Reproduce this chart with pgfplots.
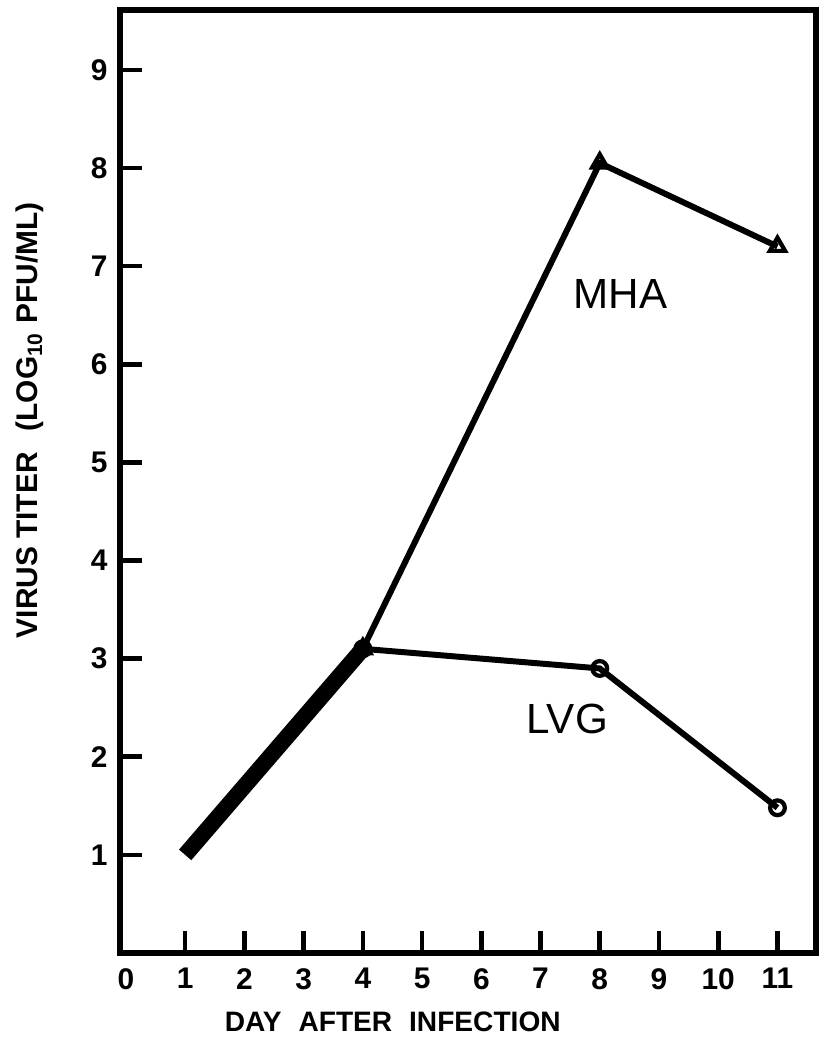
\documentclass[border=0pt]{standalone}
\usepackage{fontspec}
\setmainfont{Liberation Sans}
\usepackage{pgfplots}
\pgfplotsset{compat=1.18}
\begin{document}
\begin{tikzpicture}
\begin{axis}[name=ax, at={(0,0)}, anchor=south west,
  scale only axis, width=6.96cm, height=9.43cm,
  xmin=-0.1, xmax=11.65, ymin=0, ymax=9.61,
  axis line style={line width=1.8pt},
  xtick={1,...,11}, ytick={1,...,9},
  extra x ticks={0}, extra x tick style={major tick length=0pt},
  tick align=inside, xtick pos=bottom, ytick pos=left,
  major tick length=0.22cm,
  every tick/.style={line width=1.3pt, black},
  tick label style={font=\bfseries\fontsize{8.5}{10}\selectfont},
  /pgf/number format/assume math mode=true,
  xticklabel style={yshift=-0.03cm},
  xlabel={DAY\hspace{0.6em}AFTER\hspace{0.6em}INFECTION},
  xlabel style={font=\bfseries\fontsize{8}{10}\selectfont,
    at={(axis description cs:0.392,-0.073)}, anchor=center},
  ylabel={VIRUS TITER\hspace{0.7em}(LOG\textsubscript{10} PFU/ML)},
  ylabel style={font=\bfseries\fontsize{8.5}{10}\selectfont,
    at={(axis description cs:-0.13,0.565)}, anchor=center},
  clip=false]
% overlapping early segment (both strains), drawn heavy as in the original
\addplot[black, line width=4.6pt] coordinates {(1,1.0) (4,3.1)};
% MHA
\addplot[black, line width=1.7pt, mark=triangle, mark size=2.5pt,
  mark options={fill=white, line width=1.2pt}] coordinates {(4,3.1) (8,8.05) (11,7.2)};
% LVG
\addplot[black, line width=1.7pt, mark=o, mark size=2.1pt,
  mark options={fill=white, line width=1.2pt}] coordinates {(4,3.1) (8,2.9) (11,1.48)};
\node[font=\fontsize{12}{14}\selectfont] at (axis cs:8.35,6.72) {MHA};
\node[font=\fontsize{12}{14}\selectfont] at (axis cs:7.45,2.38) {LVG};
\end{axis}
\pgfresetboundingbox
\path[use as bounding box] ([shift={(-1.2cm,-1.0cm)}]ax.south west) rectangle ([shift={(0.04cm,0.1cm)}]ax.north east);
\end{tikzpicture}
\end{document}
